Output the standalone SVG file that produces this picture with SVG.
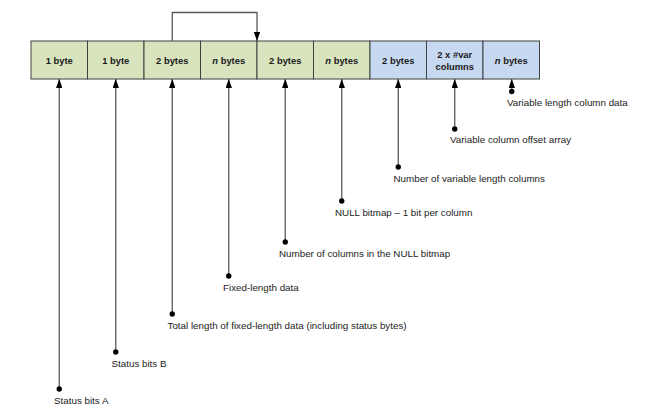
<svg xmlns="http://www.w3.org/2000/svg" width="660" height="419" viewBox="0 0 660 419">
<style>
.g{fill:#d7e4bd;stroke:#404040;stroke-width:1}
.b{fill:#c6d9f1;stroke:#404040;stroke-width:1}
.bl{font-family:"Liberation Sans",Arial,sans-serif;font-size:9.4px;font-weight:bold;fill:#1a1a1a;text-anchor:middle}
.lb{font-family:"Liberation Sans",Arial,sans-serif;font-size:9.8px;fill:#222}
.c{fill:none;stroke:#5a5a5a;stroke-width:1.3}
</style>
<defs>
<marker id="ah" viewBox="0 0 9 6.4" refX="9" refY="3.2" markerWidth="9" markerHeight="6.4" markerUnits="userSpaceOnUse" orient="auto">
<path d="M0,0 L9,3.2 L0,6.4 z" fill="#000"/>
</marker>
</defs>
<rect x="0" y="0" width="660" height="419" fill="#fff"/>
<g id="node-status-a"><rect class="g" x="31" y="41" width="56.5" height="38"/><text class="bl" x="59.25" y="64">1 byte</text></g>
<g id="node-status-b"><rect class="g" x="87.5" y="41" width="56.5" height="38"/><text class="bl" x="115.75" y="64">1 byte</text></g>
<g id="node-fixed-len"><rect class="g" x="144" y="41" width="56.5" height="38"/><text class="bl" x="172.25" y="64">2 bytes</text></g>
<g id="node-fixed-data"><rect class="g" x="200.5" y="41" width="56.5" height="38"/><text class="bl" x="228.75" y="64"><tspan font-style="italic">n</tspan> bytes</text></g>
<g id="node-ncols"><rect class="g" x="257" y="41" width="56.5" height="38"/><text class="bl" x="285.25" y="64">2 bytes</text></g>
<g id="node-nullbitmap"><rect class="g" x="313.5" y="41" width="56.5" height="38"/><text class="bl" x="341.75" y="64"><tspan font-style="italic">n</tspan> bytes</text></g>
<g id="node-nvar"><rect class="b" x="370" y="41" width="56.5" height="38"/><text class="bl" x="398.25" y="64">2 bytes</text></g>
<g id="node-offsets"><rect class="b" x="426.5" y="41" width="56.5" height="38"/><text class="bl" x="454.75" y="57.5">2 x #var</text><text class="bl" x="454.75" y="70">columns</text></g>
<g id="node-vardata"><rect class="b" x="483" y="41" width="56.5" height="38"/><text class="bl" x="511.25" y="64"><tspan font-style="italic">n</tspan> bytes</text></g>
<g id="connectors">
<path class="c" d="M172.25,41 V12.5 H257 V41" marker-end="url(#ah)"/>
<path class="c" d="M59.25,389 V79" marker-end="url(#ah)"/>
<path class="c" d="M115.75,352 V79" marker-end="url(#ah)"/>
<path class="c" d="M172.25,314 V79" marker-end="url(#ah)"/>
<path class="c" d="M228.75,276 V79" marker-end="url(#ah)"/>
<path class="c" d="M285.25,242 V79" marker-end="url(#ah)"/>
<path class="c" d="M341.75,201 V79" marker-end="url(#ah)"/>
<path class="c" d="M398.25,167 V79" marker-end="url(#ah)"/>
<path class="c" d="M454.75,129 V79" marker-end="url(#ah)"/>
<path class="c" d="M511.75,91 V79" marker-end="url(#ah)"/>
<g fill="#000">
<circle cx="59.25" cy="389" r="2.7"/>
<circle cx="115.75" cy="352" r="2.7"/>
<circle cx="172.25" cy="314" r="2.7"/>
<circle cx="228.75" cy="276" r="2.7"/>
<circle cx="285.25" cy="242" r="2.7"/>
<circle cx="341.75" cy="201" r="2.7"/>
<circle cx="398.25" cy="167" r="2.7"/>
<circle cx="454.75" cy="129" r="2.7"/>
<circle cx="511.75" cy="91.5" r="2.7"/>
</g>
</g>
<g id="labels">
<text class="lb" x="507" y="106">Variable length column data</text>
<text class="lb" x="450" y="143">Variable column offset array</text>
<text class="lb" x="393.5" y="181.5">Number of variable length columns</text>
<text class="lb" x="335" y="215.5">NULL bitmap – 1 bit per column</text>
<text class="lb" x="279" y="257">Number of columns in the NULL bitmap</text>
<text class="lb" x="223" y="291">Fixed-length data</text>
<text class="lb" x="167.5" y="329">Total length of fixed-length data (including status bytes)</text>
<text class="lb" x="111.5" y="367">Status bits B</text>
<text class="lb" x="54" y="404">Status bits A</text>
</g>
</svg>
